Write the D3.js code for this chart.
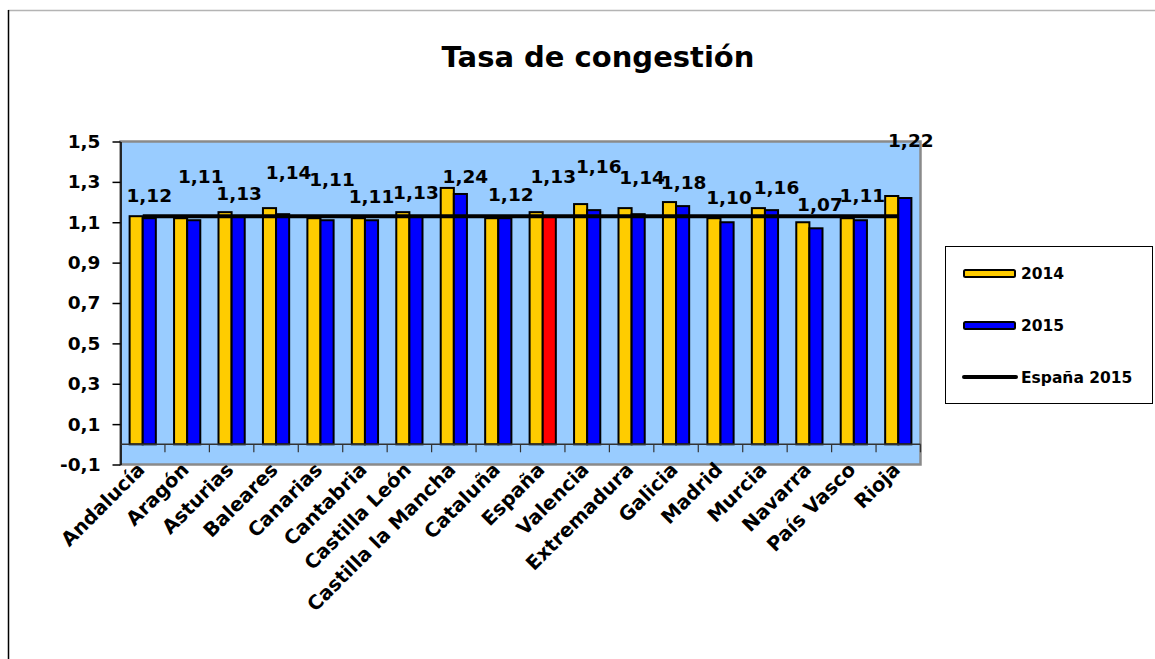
<!DOCTYPE html>
<html>
<head>
<meta charset="utf-8">
<script src="https://cdn.jsdelivr.net/npm/d3@7"></script>
<style>
  body { margin: 0; background: #fff; }
  svg { display: block; font-family: "DejaVu Sans", Verdana, sans-serif; font-weight: bold; }
</style>
</head>
<body>
<svg id="chart" width="1155" height="659"></svg>
<script>
//* Tasa de congestión *//

const CATEGORIES = ["Andalucía", "Aragón", "Asturias", "Baleares", "Canarias", "Cantabria",
  "Castilla León", "Castilla la Mancha", "Cataluña", "España", "Valencia", "Extremadura",
  "Galicia", "Madrid", "Murcia", "Navarra", "País Vasco", "Rioja"];
const VALUES_2014 = [1.13, 1.12, 1.15, 1.17, 1.12, 1.12, 1.15, 1.27, 1.12, 1.15, 1.19, 1.17, 1.20, 1.12, 1.17, 1.10, 1.12, 1.23];
const VALUES_2015 = [1.12, 1.11, 1.13, 1.14, 1.11, 1.11, 1.13, 1.24, 1.12, 1.13, 1.16, 1.14, 1.18, 1.10, 1.16, 1.07, 1.11, 1.22];
const ESPANA_2015 = 1.13;
const Y_TICKS = [-0.1, 0.1, 0.3, 0.5, 0.7, 0.9, 1.1, 1.3, 1.5];
const SERIES = ["2014", "2015"];

// label nudges (Excel placed them unevenly)
const LABEL_LIFT = [16, 37, 16, 35, 34, 17, 17, 11, 17, 33, 37, 30, 17, 18, 16, 17, 18, 51];
const LABEL_SHIFT = [0, 7, 1, 6, 5, 0, 0, 5, 6, 4, 5, 4, 1, 2, 5, 4, 2, 6];

const PLOT = { left: 120.5, right: 920.5, top: 141.5, bottom: 464.5 };
const fmt = d => d3.format(".1f")(d).replace(".", ",").replace("−", "-");
const fmt2 = d => d3.format(".2f")(d).replace(".", ",");

const svg = d3.select('#chart');

// page frame
svg.append('line').attr('x1', 8).attr('x2', 1155).attr('y1', 10.5).attr('y2', 10.5)
  .attr('stroke', '#b4b4b4').attr('stroke-width', 1.5);
svg.append('line').attr('x1', 8.5).attr('x2', 8.5).attr('y1', 10).attr('y2', 659)
  .attr('stroke', '#000').attr('stroke-width', 1.5);

//Create Scales
const x0 = d3.scaleBand().domain(CATEGORIES).range([PLOT.left, PLOT.right]).padding(0);
const bw = x0.bandwidth();
const x1 = d3.scaleBand().domain(SERIES).range([bw * 0.205, bw * 0.795]).padding(0);
const y = d3.scaleLinear().domain([-0.1, 1.5]).range([PLOT.bottom, PLOT.top]);

// plot background
svg.append('rect')
  .attr('x', PLOT.left).attr('y', PLOT.top)
  .attr('width', PLOT.right - PLOT.left).attr('height', PLOT.bottom - PLOT.top)
  .attr('fill', '#99ccff').attr('stroke', '#8a8a8a').attr('stroke-width', 2.5);

// Y axis
const yAxis = svg.append('g')
  .attr('transform', `translate(${PLOT.left},0)`)
  .call(d3.axisLeft(y).tickValues(Y_TICKS).tickFormat(fmt).tickSize(8).tickPadding(12).tickSizeOuter(0));
yAxis.select('.domain').attr('stroke', '#000').attr('stroke-width', 1.5);
yAxis.selectAll('.tick line').attr('stroke', '#000').attr('stroke-width', 1.5);
yAxis.selectAll('text').attr('font-size', '18.5px').attr('font-family', '"DejaVu Sans", Verdana, sans-serif')
  .attr('font-weight', 'bold').attr('fill', '#000');

//Draw Bars
const groups = svg.selectAll('.grp')
  .data(CATEGORIES)
  .enter()
  .append('g')
  .attr('transform', d => `translate(${x0(d)},0)`);

groups.append('rect')
  .attr('x', x1("2014"))
  .attr('width', x1.bandwidth())
  .attr('y', (d, i) => y(VALUES_2014[i]))
  .attr('height', (d, i) => y(0) - y(VALUES_2014[i]))
  .attr('fill', '#ffcc00').attr('stroke', '#000').attr('stroke-width', 2);

groups.append('rect')
  .attr('x', x1("2015"))
  .attr('width', x1.bandwidth())
  .attr('y', (d, i) => y(VALUES_2015[i]))
  .attr('height', (d, i) => y(0) - y(VALUES_2015[i]))
  .attr('fill', d => d === "España" ? '#ff0000' : '#0000ff')
  .attr('stroke', '#000').attr('stroke-width', 2);

// category axis at zero
const xAxis = svg.append('g')
  .attr('transform', `translate(0,${y(0)})`);
xAxis.append('line').attr('x1', PLOT.left).attr('x2', PLOT.right)
  .attr('stroke', '#333').attr('stroke-width', 1.5);
xAxis.selectAll('.tk')
  .data(CATEGORIES.slice(1).concat(["end"]))
  .enter()
  .append('line')
  .attr('x1', (d, i) => PLOT.left + bw * (i + 1))
  .attr('x2', (d, i) => PLOT.left + bw * (i + 1))
  .attr('y1', 0).attr('y2', 8)
  .attr('stroke', '#333').attr('stroke-width', 1.2);

// España 2015 line
const line = d3.line().x(d => x0(d) + bw / 2).y(() => y(ESPANA_2015));
svg.append('path')
  .datum([CATEGORIES[0], CATEGORIES[CATEGORIES.length - 1]])
  .attr('d', line)
  .attr('stroke', '#000').attr('stroke-width', 4).attr('fill', 'none');

//Draw Labels
svg.selectAll('.label')
  .data(CATEGORIES)
  .enter()
  .append('text')
  .text((d, i) => fmt2(VALUES_2015[i]))
  .attr('x', (d, i) => x0(d) + x1("2015") + x1.bandwidth() / 2 + LABEL_SHIFT[i])
  .attr('y', (d, i) => y(VALUES_2015[i]) - LABEL_LIFT[i])
  .attr('text-anchor', 'middle')
  .attr('font-size', '18.5px')
  .attr('fill', '#000');

// category labels
svg.selectAll('.cat')
  .data(CATEGORIES)
  .enter()
  .append('text')
  .text(d => d)
  .attr('transform', d => `translate(${x0(d) + bw / 2 + 3},471) rotate(-45)`)
  .attr('text-anchor', 'end')
  .attr('font-size', '19.5px')
  .attr('fill', '#000');

// title
svg.append('text')
  .attr('x', 598).attr('y', 67)
  .attr('text-anchor', 'middle')
  .attr('font-size', '29px')
  .text('Tasa de congestión');

// legend
const legend = svg.append('g');
legend.append('rect')
  .attr('x', 945.5).attr('y', 246.5).attr('width', 207).attr('height', 157)
  .attr('fill', '#fff').attr('stroke', '#000').attr('stroke-width', 1);

const LEGEND_ITEMS = [
  { label: "2014", kind: "bar", color: '#ffcc00', cy: 273.5 },
  { label: "2015", kind: "bar", color: '#0000ff', cy: 325.5 },
  { label: "España 2015", kind: "line", color: '#000', cy: 377 }
];
LEGEND_ITEMS.forEach(it => {
  if (it.kind === "bar") {
    legend.append('rect')
      .attr('x', 964).attr('y', it.cy - 3.5).attr('width', 51).attr('height', 7)
      .attr('rx', 1.5)
      .attr('fill', it.color).attr('stroke', '#000').attr('stroke-width', 2);
  } else {
    legend.append('line')
      .attr('x1', 964).attr('x2', 1016).attr('y1', it.cy).attr('y2', it.cy)
      .attr('stroke', it.color).attr('stroke-width', 4).attr('stroke-linecap', 'round');
  }
  legend.append('text')
    .attr('x', 1021).attr('y', it.cy + 5.5)
    .attr('font-size', '15.5px')
    .text(it.label);
});
</script>
</body>
</html>
